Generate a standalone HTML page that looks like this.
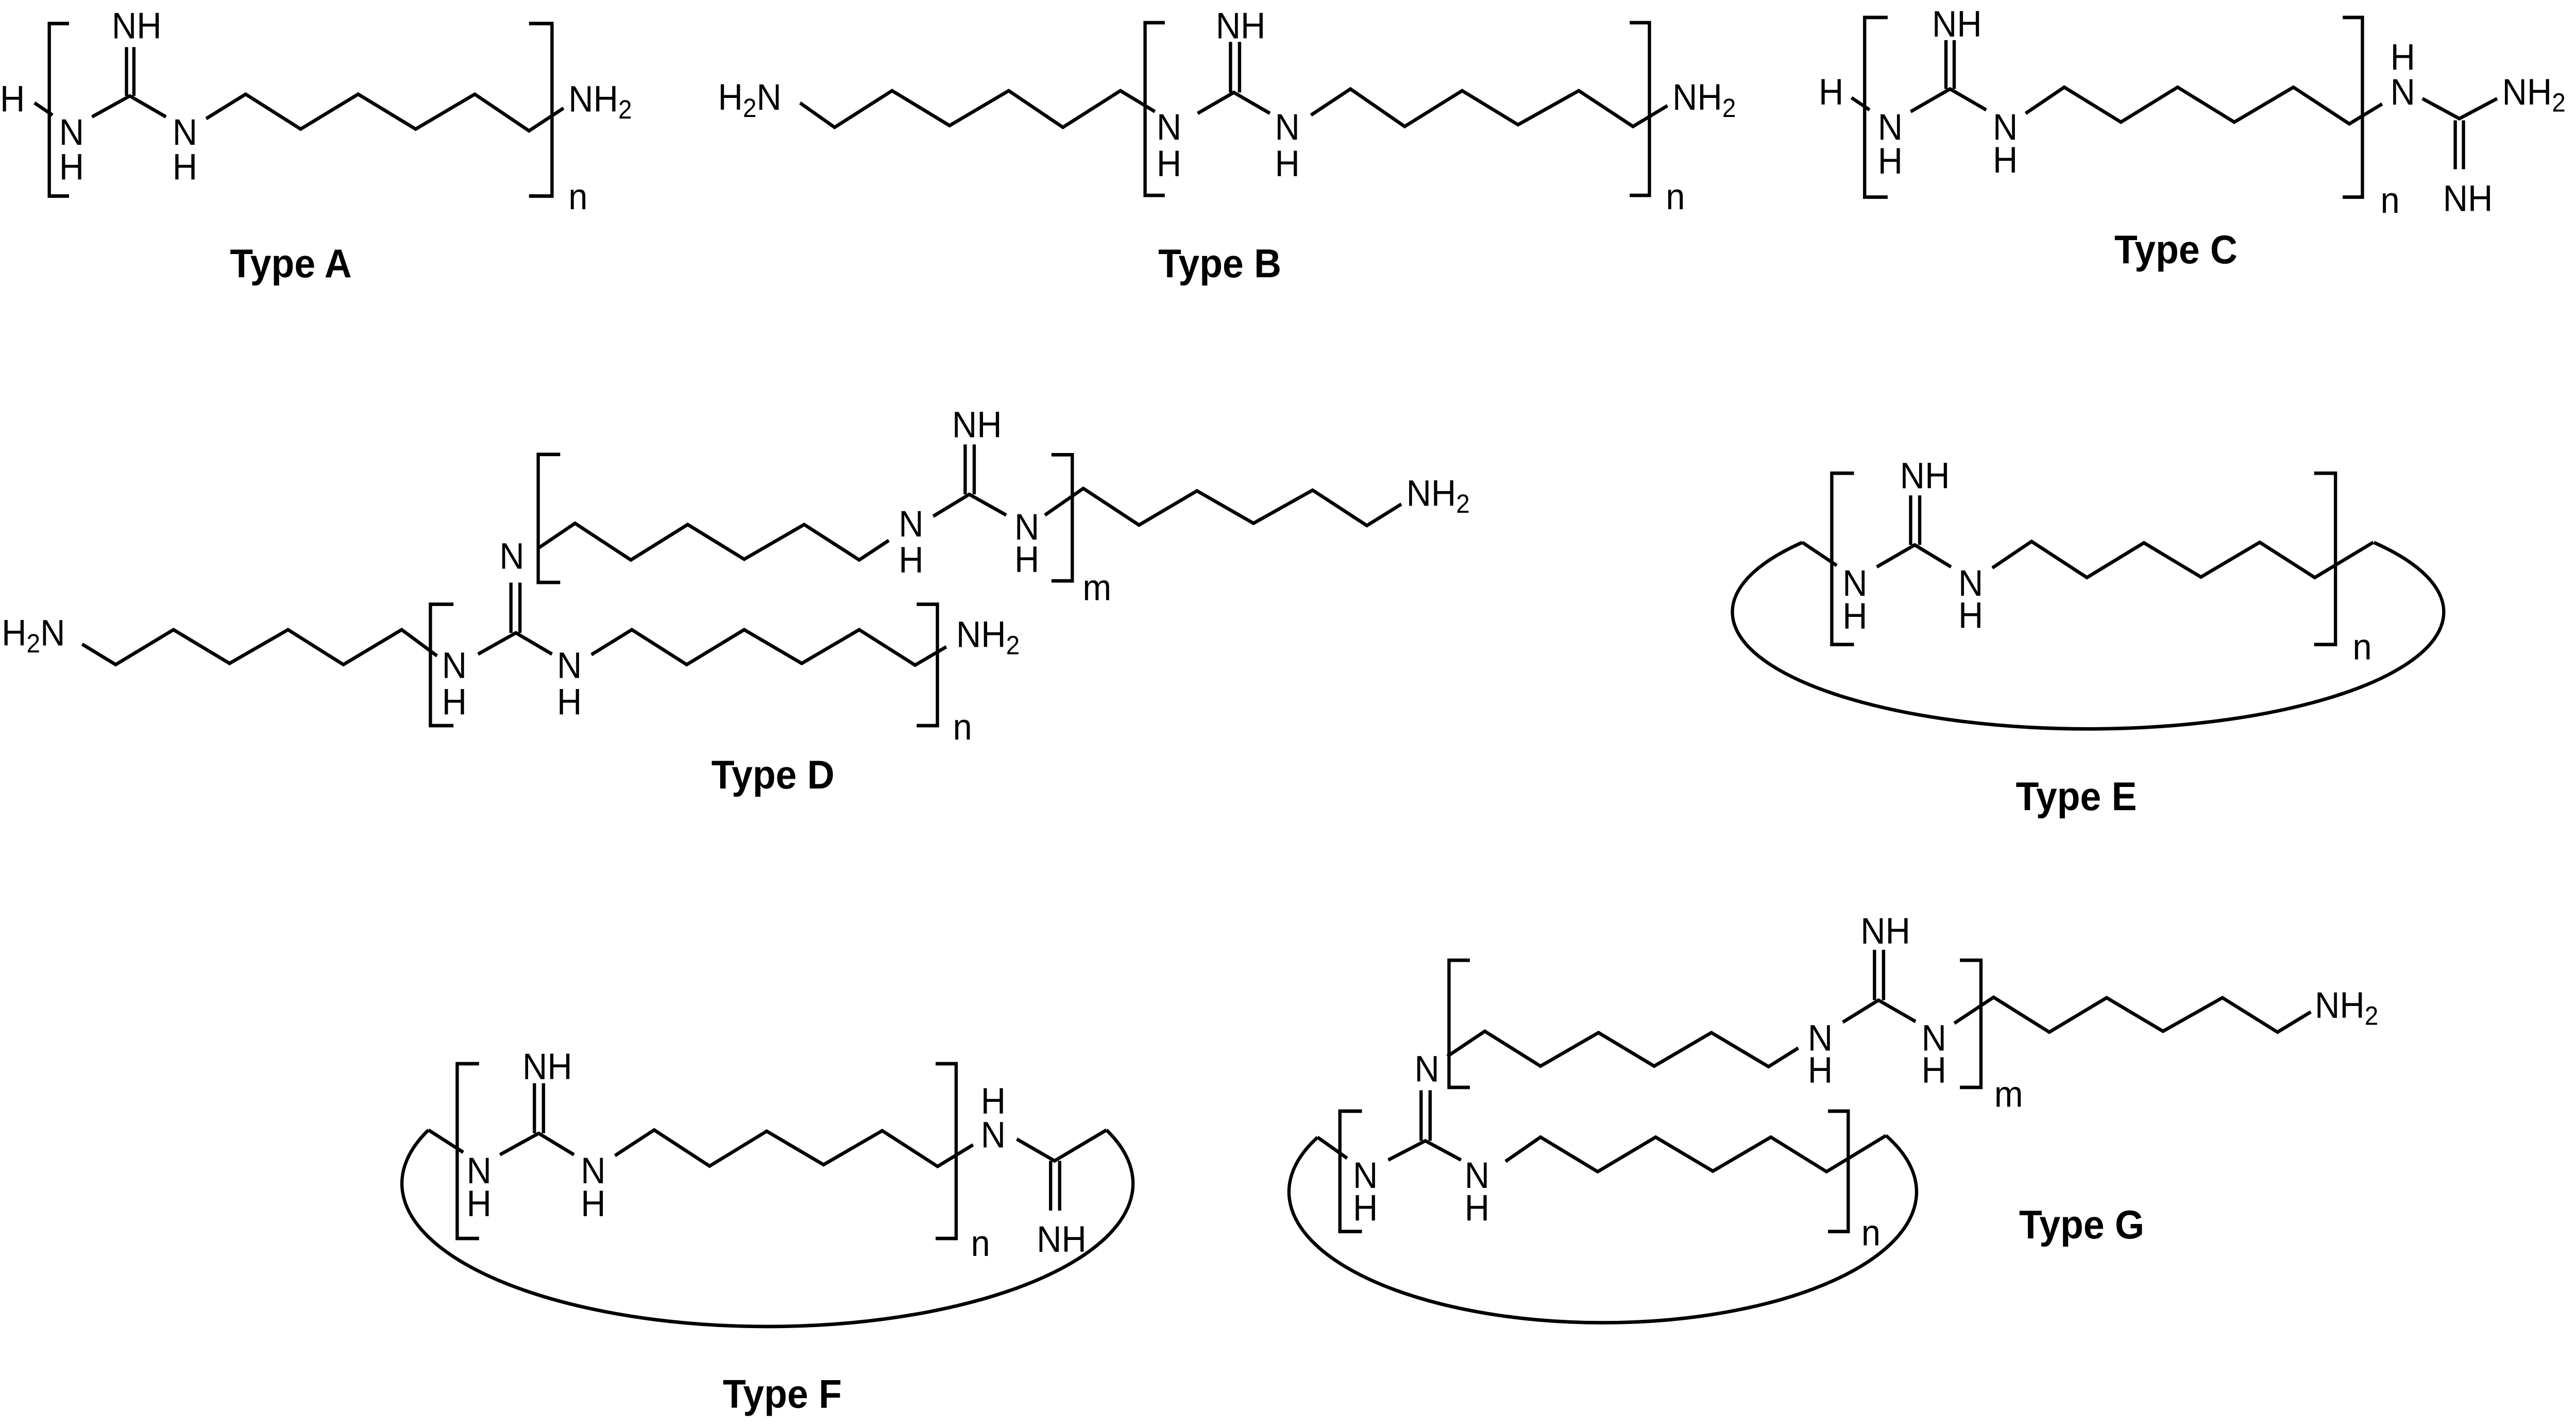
<!DOCTYPE html>
<html><head><meta charset="utf-8"><style>
html,body{margin:0;padding:0;background:#fff;overflow:hidden;width:100%;height:100%;}
svg{display:block;width:100vw;height:100vh;}
text{font-family:"Liberation Sans",Arial,sans-serif;fill:#000;}
.a{font-size:21px;}
.s{font-size:15px;}
.l{font-size:23px;font-weight:bold;}
path,line{fill:none;stroke:#000;stroke-width:2;stroke-linejoin:miter;}
</style></head><body>
<svg viewBox="0 0 1568 817.5" preserveAspectRatio="none" xmlns="http://www.w3.org/2000/svg">
<rect width="1568" height="817.5" fill="#fff"/>

<!-- Type A -->
<text class="a" x="0" y="64">H</text>
<path d="M21,59 L32,66"/>
<path d="M42,13.5 H30 V112.4 H42"/>
<text class="a" x="36" y="83">N</text><text class="a" x="36" y="103">H</text>
<path d="M56,67 L79,55 L101,67"/>
<line x1="77" y1="27" x2="77" y2="55"/><line x1="81.5" y1="27" x2="81.5" y2="55"/>
<text class="a" x="68" y="22">NH</text>
<text class="a" x="105" y="83">N</text><text class="a" x="105" y="103">H</text>
<path d="M125.5,68 L149.5,54 L183,74 L218,54 L253,74 L289,54 L322,75 L343,62"/>
<path d="M322,13.5 H336 V112.4 H322"/>
<text class="a" x="346" y="64">NH<tspan class="s" dy="4">2</tspan></text>
<text class="a" x="346" y="120">n</text>
<text class="l" x="140" y="159">Type A</text>

<!-- Type B -->
<text class="a" x="437" y="63">H<tspan class="s" dy="4">2</tspan><tspan dy="-4">N</tspan></text>
<path d="M487,59 L508,73 L543,52 L578,72 L614,52 L647,73 L682,52 L703,64"/>
<path d="M709,13 H697 V112 H709"/>
<text class="a" x="704" y="80">N</text><text class="a" x="704" y="101">H</text>
<path d="M729,65 L751,53 L773,65"/>
<line x1="749" y1="24" x2="749" y2="53"/><line x1="754.5" y1="24" x2="754.5" y2="53"/>
<text class="a" x="740" y="22">NH</text>
<text class="a" x="776" y="80">N</text><text class="a" x="776" y="101">H</text>
<path d="M798,66 L822,51 L855,72.5 L890,52 L924,71.5 L961,52 L994,72.5 L1015,60.6"/>
<path d="M992,13 H1004 V112 H992"/>
<text class="a" x="1018" y="63">NH<tspan class="s" dy="4">2</tspan></text>
<text class="a" x="1014" y="120">n</text>
<text class="l" x="705" y="159">Type B</text>

<!-- Type C -->
<text class="a" x="1107" y="60">H</text>
<path d="M1127,56 L1138,63"/>
<path d="M1149,10 H1135 V113 H1149"/>
<text class="a" x="1143" y="80">N</text><text class="a" x="1143" y="99.5">H</text>
<path d="M1163,64 L1187,51 L1209,63"/>
<line x1="1184.5" y1="23" x2="1184.5" y2="51"/><line x1="1189.5" y1="23" x2="1189.5" y2="51"/>
<text class="a" x="1176" y="21">NH</text>
<text class="a" x="1213" y="80">N</text><text class="a" x="1213" y="99">H</text>
<path d="M1233,65 L1256.5,50 L1291,70 L1325.5,50 L1360,70 L1396,50 L1430,71 L1450,59.6"/>
<path d="M1426,10 H1438 V113 H1426"/>
<text class="a" x="1449" y="122">n</text>
<text class="a" x="1455" y="40">H</text><text class="a" x="1455" y="60">N</text>
<path d="M1474.5,56.5 L1497,68 L1520,56.5"/>
<line x1="1494.5" y1="69" x2="1494.5" y2="97"/><line x1="1499.5" y1="69" x2="1499.5" y2="97"/>
<text class="a" x="1523" y="60">NH<tspan class="s" dy="4">2</tspan></text>
<text class="a" x="1487" y="121">NH</text>
<text class="l" x="1287" y="151">Type C</text>

<!-- Type D -->
<text class="a" x="1" y="370">H<tspan class="s" dy="4">2</tspan><tspan dy="-4">N</tspan></text>
<path d="M50,369.3 L70.4,381 L105.6,361 L139.7,380.3 L175.3,361 L209,381 L244.5,361 L266,376"/>
<path d="M276,346.4 H262 V416 H276"/>
<text class="a" x="269" y="388.6">N</text><text class="a" x="269" y="409.7">H</text>
<path d="M291,375 L314,362.8 L336,375"/>
<line x1="311" y1="334" x2="311" y2="362.8"/><line x1="316.5" y1="334" x2="316.5" y2="362.8"/>
<text class="a" x="304" y="326">N</text>
<text class="a" x="339" y="388.6">N</text><text class="a" x="339" y="409.7">H</text>
<path d="M360,375.3 L384.6,361 L418,381 L453,361 L488,380.3 L523,361 L557,381.3 L576,370.8"/>
<path d="M558,346.4 H570.6 V416 H558"/>
<text class="a" x="582" y="371">NH<tspan class="s" dy="4">2</tspan></text>
<text class="a" x="580" y="424">n</text>
<path d="M341,260.5 H327.6 V333.9 H341"/>
<path d="M327.6,314.3 L350,300 L384,321 L418.6,300.7 L453,320.6 L489.5,300.7 L523,321 L541,309.8"/>
<text class="a" x="547" y="307.5">N</text><text class="a" x="547" y="328.3">H</text>
<path d="M568,296 L590,283.4 L612.5,295.3"/>
<line x1="587.5" y1="254.8" x2="587.5" y2="283.4"/><line x1="593" y1="254.8" x2="593" y2="283.4"/>
<text class="a" x="579.5" y="250.7">NH</text>
<text class="a" x="617.5" y="309.4">N</text><text class="a" x="617.5" y="328">H</text>
<path d="M640,260.7 H652.7 V333 H640"/>
<text class="a" x="659" y="344">m</text>
<path d="M636,295.3 L659.4,280 L693.3,301 L728.6,281.4 L763,300 L799,281 L832,301.3 L853,289"/>
<text class="a" x="856" y="290">NH<tspan class="s" dy="4">2</tspan></text>
<text class="l" x="433" y="452">Type D</text>

<!-- Type E -->
<path d="M1097,311 A216.5,67 0 1 0 1445,311"/>
<path d="M1097,310.9 L1118,324.2"/>
<path d="M1128.5,271.3 H1115 V369.5 H1128.5"/>
<text class="a" x="1121.5" y="341.5">N</text><text class="a" x="1121.5" y="360.4">H</text>
<path d="M1142.4,325 L1165.5,312.4 L1187.6,325"/>
<line x1="1163" y1="284" x2="1163" y2="312.4"/><line x1="1168.5" y1="284" x2="1168.5" y2="312.4"/>
<text class="a" x="1156.5" y="280">NH</text>
<text class="a" x="1192" y="341.5">N</text><text class="a" x="1192" y="360">H</text>
<path d="M1212.7,325.6 L1236.6,310.4 L1270.3,331.1 L1305,311.2 L1339.7,330.8 L1375.5,310.9 L1409,331.1 L1444.6,310.9"/>
<path d="M1408.6,271.3 H1421.6 V369.5 H1408.6"/>
<text class="a" x="1432" y="378">n</text>
<text class="l" x="1227" y="464.5">Type E</text>

<!-- Type F -->
<path d="M260.8,647.8 A222.5,82 0 1 0 673.5,647.8"/>
<path d="M260.8,647.8 L282,660.6"/>
<path d="M291.6,609.8 H278.3 V710 H291.6"/>
<text class="a" x="284" y="678.3">N</text><text class="a" x="284" y="697.3">H</text>
<path d="M304.3,662 L327.9,649.7 L349.4,662"/>
<line x1="325.3" y1="621" x2="325.3" y2="649.7"/><line x1="330.8" y1="621" x2="330.8" y2="649.7"/>
<text class="a" x="318" y="618.7">NH</text>
<text class="a" x="353.5" y="678.3">N</text><text class="a" x="353.5" y="697.3">H</text>
<path d="M374.3,662.5 L398.2,647.8 L431.9,668.5 L466.7,648.5 L501.3,667.7 L537,648.2 L570.7,668.7 L592.3,656.3"/>
<path d="M569.5,609.8 H582 V710 H569.5"/>
<text class="a" x="591" y="720">n</text>
<text class="a" x="597" y="638.5">H</text><text class="a" x="597" y="657.8">N</text>
<path d="M618.9,653 L641.9,665.5 L673.5,647.8"/>
<line x1="639.5" y1="665.5" x2="639.5" y2="694"/><line x1="645" y1="665.5" x2="645" y2="694"/>
<text class="a" x="631" y="717.6">NH</text>
<text class="l" x="440" y="807">Type F</text>

<!-- Type G -->
<path d="M802,652 A191,75 0 1 0 1148,651"/>
<path d="M802,652 L820,664"/>
<path d="M829,637 H815.6 V706 H829"/>
<text class="a" x="823.5" y="681">N</text><text class="a" x="823.5" y="699.7">H</text>
<path d="M845,665 L867.6,654 L889.3,665"/>
<line x1="865" y1="625" x2="865" y2="654"/><line x1="870.5" y1="625" x2="870.5" y2="654"/>
<text class="a" x="861" y="620">N</text>
<text class="a" x="891.5" y="681">N</text><text class="a" x="891.5" y="699.7">H</text>
<path d="M916.4,665.8 L937.7,651.9 L972.5,671.7 L1007.8,651.9 L1042.6,671.4 L1077.9,651.9 L1111.8,671.7 L1148,651"/>
<path d="M1112.7,637 H1125 V706 H1112.7"/>
<text class="a" x="1133" y="714">n</text>
<path d="M894.7,550.5 H882 V623.4 H894.7"/>
<path d="M881,605.6 L903.8,591.2 L937.7,611.2 L973,592 L1006.9,611.2 L1041.7,592 L1076.5,611.5 L1094.6,600.8"/>
<text class="a" x="1100.4" y="602.2">N</text><text class="a" x="1100.4" y="620.8">H</text>
<path d="M1121.7,586 L1143.4,573.4 L1166,585.6"/>
<line x1="1141" y1="544.5" x2="1141" y2="573.4"/><line x1="1146.5" y1="544.5" x2="1146.5" y2="573.4"/>
<text class="a" x="1132.5" y="541">NH</text>
<text class="a" x="1169.6" y="602.2">N</text><text class="a" x="1169.6" y="620.8">H</text>
<path d="M1193,550.5 H1205.8 V623.4 H1193"/>
<text class="a" x="1213.9" y="634.4">m</text>
<path d="M1189.6,586.6 L1213.5,571.7 L1247.4,591.7 L1282.3,572 L1316.6,591.2 L1352.8,572 L1386.3,591.7 L1406.6,580.1"/>
<text class="a" x="1409" y="583.5">NH<tspan class="s" dy="4">2</tspan></text>
<text class="l" x="1229" y="710">Type G</text>
</svg>
</body></html>
